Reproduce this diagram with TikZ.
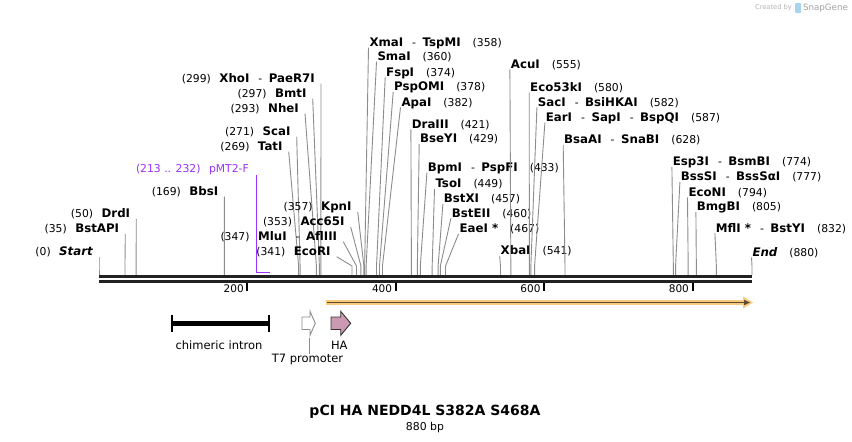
\documentclass[tikz,border=0pt]{standalone}
\usepackage{fontspec}
\setmainfont{DejaVu Sans}
\usetikzlibrary{arrows.meta}
\definecolor{leadgray}{HTML}{8C8C8C}
\definecolor{primerc}{HTML}{9933FF}
\definecolor{orangeL}{HTML}{F9C97C}
\definecolor{orangeD}{HTML}{5C4A32}
\definecolor{hapink}{HTML}{CC99B3}
\definecolor{bbone}{HTML}{222222}
\definecolor{sgray}{HTML}{B5B5B5}
\definecolor{slogo}{HTML}{A9D3EE}
\tikzset{
  enz/.style={font=\fontsize{10.8}{12}\selectfont, inner sep=0pt, text=black},
  leader/.style={draw=leadgray, line width=0.9pt},
  feat/.style={font=\fontsize{11.5}{13}\selectfont, inner sep=0pt},
  ticklab/.style={font=\fontsize{10.5}{12}\selectfont, inner sep=0pt, anchor=base east},
  bbline/.style={draw=bbone, line width=3pt},
  tickline/.style={draw=black, line width=2pt},
}
\newcommand\nm[1]{{\fontsize{11.8}{12}\selectfont\bfseries #1}}
\newcommand\nmi[1]{{\fontsize{11.8}{12}\selectfont\bfseries\itshape #1}}
\newcommand\enzdash{\hspace{9pt}-\hspace{6.5pt}}
\newcommand\posgap{\hspace{12pt}}
\newcommand\lgap{\hspace{8.5pt}}
\newcommand\enzL[5]{%
  \node[enz, anchor=base east] (#1) at ({#2-6},{#3+3.8}) {#4};
  \coordinate (#1k) at (#5,266);
  \coordinate (#1s) at (#5,275);
  \draw[leader] ([shift={(6pt,-1.2pt)}]#1.base east) -- (#1k) -- (#1s);}
\newcommand\enzR[5]{%
  \node[enz, anchor=base west] (#1) at (#2,{#3+3.8}) {#4};
  \coordinate (#1k) at (#5,266);
  \coordinate (#1s) at (#5,275);
  \draw[leader] ([shift={(-0.8pt,-1.2pt)}]#1.base west) -- (#1k) -- (#1s);}
\begin{document}
\begin{tikzpicture}[x=1pt,y=-1pt]
\useasboundingbox (0,0) rectangle (852,442);
\fill[white] (0,0) rectangle (852,442);

% watermark
\node[inner sep=0pt, font=\fontsize{6.7}{8}\selectfont, text=sgray] (created) at (773.5,8) {Created by};
\fill[slogo, rounded corners=1pt] (795,3) rectangle (801,13);
\node[inner sep=0pt, font=\fontsize{8.7}{10}\selectfont, text=sgray!90!black] (snapgene) at (825.5,8) {SnapGene};

% left-side labels
\enzL{start}{99}{251.7}{(0)\lgap\nmi{Start}}{99}
\enzL{bstapi}{125.3}{229}{(35)\lgap\nm{BstAPI}}{124.97}
\enzL{drdi}{136.3}{214}{(50)\lgap\nm{DrdI}}{136.1}
\enzL{bbsi}{224.4}{191.7}{(169)\lgap\nm{BbsI}}{224.41}
\enzL{tati}{288.7}{146.7}{(269)\lgap\nm{TatI}}{298.61}
\enzL{scai}{296.7}{131.7}{(271)\lgap\nm{ScaI}}{300.1}
\enzL{nhei}{305}{108.7}{(293)\lgap\nm{NheI}}{316.42}
\enzL{bmti}{312.7}{93.7}{(297)\lgap\nm{BmtI}}{319.39}
\enzL{xhoi}{321}{78.7}{(299)\lgap\nm{XhoI}\enzdash\nm{PaeR7I}}{320.87}
\enzL{ecori}{336.7}{251.7}{(341)\lgap\nm{EcoRI}}{352.04}
\enzL{mlui}{343.3}{236.7}{(347)\lgap\nm{MluI}\enzdash\nm{AflIII}}{356.49}
\enzL{acc}{350.7}{222}{(353)\lgap\nm{Acc65I}}{360.94}
\enzL{kpni}{357.7}{206.7}{(357)\lgap\nm{KpnI}}{363.91}

% right-side labels
\enzR{xmai}{369.3}{42.7}{\nm{XmaI}\enzdash\nm{TspMI}\posgap(358)}{364.65}
\enzR{smai}{377.3}{56.7}{\nm{SmaI}\posgap(360)}{366.14}
\enzR{fspi}{386}{72.3}{\nm{FspI}\posgap(374)}{376.52}
\enzR{pspomi}{394}{87}{\nm{PspOMI}\posgap(378)}{379.49}
\enzR{apai}{401.3}{102.3}{\nm{ApaI}\posgap(382)}{382.46}
\enzR{draiii}{411.7}{124.3}{\nm{DraIII}\posgap(421)}{411.4}
\enzR{bseyi}{420}{139}{\nm{BseYI}\posgap(429)}{417.34}
\enzR{bpmi}{427.7}{167.7}{\nm{BpmI}\enzdash\nm{PspFI}\posgap(433)}{420.31}
\enzR{tsoi}{435.3}{184}{\nm{TsoI}\posgap(449)}{432.18}
\enzR{bstxi}{443.7}{199}{\nm{BstXI}\posgap(457)}{438.12}
\enzR{bsteii}{451.7}{213.3}{\nm{BstEII}\posgap(460)}{440.34}
\enzR{eaei}{459.3}{229}{\nm{EaeI *}\posgap(467)}{445.54}
\enzR{xbai}{500.5}{251}{\nm{XbaI}\posgap(541)}{500.45}
\enzR{acui}{510.7}{64.3}{\nm{AcuI}\posgap(555)}{510.83}
\enzR{ecofiii}{530}{87.3}{\nm{Eco53kI}\posgap(580)}{529.38}
\enzR{saci}{537.7}{102.3}{\nm{SacI}\enzdash\nm{BsiHKAI}\posgap(582)}{530.87}
\enzR{eari}{545.7}{117.7}{\nm{EarI}\enzdash\nm{SapI}\enzdash\nm{BspQI}\posgap(587)}{534.58}
\enzR{bsaai}{564}{140}{\nm{BsaAI}\enzdash\nm{SnaBI}\posgap(628)}{564.99}
\enzR{espiii}{672.7}{162}{\nm{Esp3I}\enzdash\nm{BsmBI}\posgap(774)}{673.34}
\enzR{bsssi}{680.7}{177}{\nm{BssSI}\enzdash\nm{BssSαI}\posgap(777)}{675.57}
\enzR{econi}{688.3}{192.3}{\nm{EcoNI}\posgap(794)}{688.18}
\enzR{bmgbi}{696.7}{207}{\nm{BmgBI}\posgap(805)}{696.35}
\enzR{mfli}{715.7}{228.3}{\nm{MflI *}\enzdash\nm{BstYI}\posgap(832)}{716.38}
\enzR{endl}{752.3}{252.3}{\nmi{End}\posgap(880)}{752}

% primer pMT2-F
\node[enz, anchor=base east, text=primerc] (primer) at (249,{169+3.8}) {(213 .. 232)\lgap pMT2-F};
\coordinate (primerend) at (269.7,272.3);
\draw[primerc, line width=1.6pt] ([shift={(7.3pt,-2.2pt)}]primer.base east) |- (primerend);

% backbone
\draw[bbline] (99,276.5) -- (752,276.5);
\draw[bbline, line width=2.7pt] (99,281.5) -- (752,281.5);

% ticks
\foreach \t/\xx in {200/247.4, 400/395.8, 600/544.2, 800/692.6}{
  \draw[tickline] (\xx,283) -- (\xx,290.5);
  \node[ticklab] (tick\t) at ({\xx-3.5},292.8) {\t};
}

% orange ORF arrow
\draw[orangeL, line width=5pt] (326,302.5) -- (746,302.5);
\fill[orangeL] (743,296.5) -- (753,302.5) -- (743,308.5) -- cycle;
\draw[orangeD, line width=1.3pt, -{Triangle[length=6pt,width=5pt]}] (327,302.5) -- (750,302.5);

% chimeric intron
\draw[black, line width=5pt] (172,323.3) -- (269,323.3);
\draw[black, line width=1.3pt] (172,315) -- (172,331.5);
\draw[black, line width=1.3pt] (269,315) -- (269,331.5);
\node[feat] (intron) at (219,345) {chimeric intron};

% T7 promoter
\draw[fill=white, draw=gray!90, line width=0.9pt] (302,317) -- (310,317) -- (310,311.3) -- (315.3,323.3) -- (310,335.3) -- (310,329.5) -- (302,329.5) -- cycle;
\node[feat] (t7) at (307.5,359.3) {T7 promoter};
\coordinate (t7top) at (309,337.5);
\draw[leadgray, line width=0.9pt] (t7top) -- (t7top |- t7.north);

% HA
\draw[fill=hapink, draw=black!80, line width=0.9pt] (331,317) -- (340.7,317) -- (340.7,311.3) -- (350.7,323.3) -- (340.7,335.3) -- (340.7,329.5) -- (331,329.5) -- cycle;
\node[feat] (ha) at (339.3,345) {HA};

% title
\node[inner sep=0pt, font=\fontsize{14}{16}\bfseries] (title) at (425,411.7) {pCI HA NEDD4L S382A S468A};
\node[inner sep=0pt, font=\fontsize{10.9}{12}\selectfont] (bp) at (425,427) {880 bp};
\end{tikzpicture}
\end{document}
